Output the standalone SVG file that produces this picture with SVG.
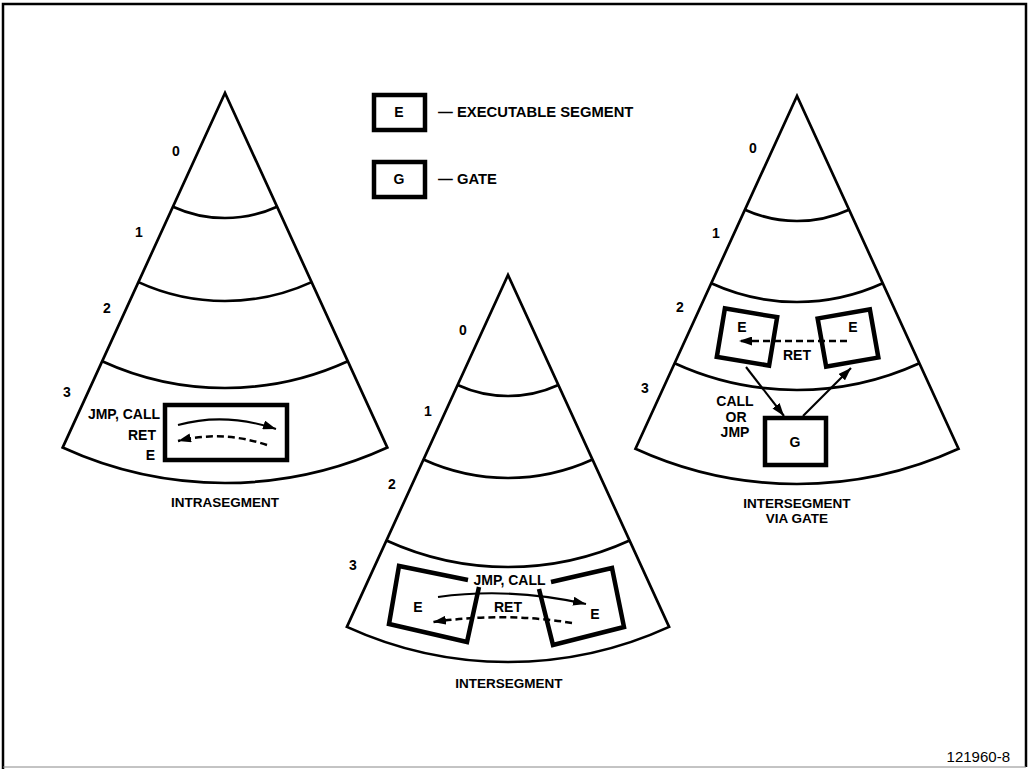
<svg xmlns="http://www.w3.org/2000/svg" width="1028" height="769" viewBox="0 0 1028 769">
<style>
text{font-family:"Liberation Sans",Arial,sans-serif;font-weight:bold;font-size:14px;fill:#000}
.t{font-size:13.5px;text-anchor:middle}
.m{text-anchor:middle}
.e{text-anchor:end}
.lg{font-size:14.8px}
.cone{fill:none;stroke:#000;stroke-width:2.7;stroke-linejoin:miter}
.box{fill:none;stroke:#000;stroke-width:4.5}
.sol{fill:none;stroke:#000;stroke-width:2.1;marker-end:url(#ah)}
.dash{fill:none;stroke:#000;stroke-width:2.5;stroke-dasharray:7 4;marker-end:url(#ah)}
</style>
<defs>
<marker id="ah" markerUnits="userSpaceOnUse" markerWidth="13" markerHeight="9" refX="13" refY="4.5" orient="auto">
<path d="M0,0 L13,4.5 L0,9 Z" fill="#000"/>
</marker>
</defs>
<rect width="1028" height="769" fill="#fff"/>
<g id="frame">
<path d="M3,769 V4 H1026 V767" fill="none" stroke="#000" stroke-width="2.5"/>
<path d="M3,767 H1026" fill="none" stroke="#888" stroke-width="1"/>
</g>
<g id="legend">
<g id="legend-e">
<rect class="box" x="374" y="95" width="51" height="35"/>
<text class="m" x="399" y="117">E</text>
<text class="lg" x="438" y="117">— EXECUTABLE SEGMENT</text>
</g>
<g id="legend-g">
<rect class="box" x="374" y="162" width="51" height="35"/>
<text class="m" x="399" y="184">G</text>
<text class="lg" x="438" y="184">— GATE</text>
</g>
</g>
<g id="cone-left">
<path class="cone" d="M62.64,447.59 L225,93 L387.36,447.59 A390,390 0 0 1 62.64,447.59 Z"/>
<path class="cone" d="M172.96,206.65 A125,125 0 0 0 277.04,206.65"/>
<path class="cone" d="M138.41,282.11 A208,208 0 0 0 311.59,282.11"/>
<path class="cone" d="M102.19,361.21 A295,295 0 0 0 347.81,361.21"/>
<text class="m" x="176" y="156">0</text>
<text class="m" x="139" y="237">1</text>
<text class="m" x="107" y="313">2</text>
<text class="m" x="67" y="397">3</text>
<text class="t" x="225" y="507">INTRASEGMENT</text>
</g>
<g id="node-intra-e">
<rect class="box" x="165" y="405" width="122" height="55"/>
<text class="e" x="160" y="419">JMP, CALL</text>
<text class="e" x="156" y="440">RET</text>
<text class="e" x="155" y="460">E</text>
</g>
<g id="cone-mid">
<path class="cone" d="M346.89,626.86 L508,275 L669.11,626.86 A387,387 0 0 1 346.89,626.86 Z"/>
<path class="cone" d="M457.63,385.01 A121,121 0 0 0 558.37,385.01"/>
<path class="cone" d="M423.49,459.57 A203,203 0 0 0 592.51,459.57"/>
<path class="cone" d="M386.44,540.49 A292,292 0 0 0 629.56,540.49"/>
<text class="m" x="463" y="335">0</text>
<text class="m" x="428" y="416">1</text>
<text class="m" x="392" y="489">2</text>
<text class="m" x="353" y="570">3</text>
<text class="t" x="509" y="688">INTERSEGMENT</text>
</g>
<g id="node-inter-e1">
<polyline class="box" points="468,580 399,566 389,624 467,642 479,587"/>
<text class="m" x="418" y="612">E</text>
</g>
<g id="node-inter-e2">
<polyline class="box" points="551,582 612,568 624,627 553,645 539,589"/>
<text class="m" x="595" y="619">E</text>
</g>
<text class="m" x="509.5" y="585">JMP, CALL</text>
<text class="m" x="508" y="612">RET</text>
<g id="cone-right">
<path class="cone" d="M635.48,448.77 L797,96 L958.52,448.77 A388,388 0 0 1 635.48,448.77 Z"/>
<path class="cone" d="M744.96,209.65 A125,125 0 0 0 849.04,209.65"/>
<path class="cone" d="M711.24,283.30 A206,206 0 0 0 882.76,283.30"/>
<path class="cone" d="M674.61,363.30 A294,294 0 0 0 919.39,363.30"/>
<text class="m" x="753" y="153">0</text>
<text class="m" x="716" y="238">1</text>
<text class="m" x="680" y="312">2</text>
<text class="m" x="645" y="393">3</text>
<text class="t" x="797" y="508">INTERSEGMENT</text>
<text class="t" x="797" y="523">VIA GATE</text>
</g>
<g id="node-gate-e1">
<rect class="box" x="-26.5" y="-24.5" width="53" height="49" transform="translate(747,337) rotate(9.5)"/>
<text class="m" x="742" y="332">E</text>
</g>
<g id="node-gate-e2">
<rect class="box" x="-26.5" y="-24.5" width="53" height="49" transform="translate(848,338) rotate(-10)"/>
<text class="m" x="853" y="332">E</text>
</g>
<g id="node-gate-g">
<rect class="box" x="765" y="418" width="61" height="47"/>
<text class="m" x="795" y="447">G</text>
</g>
<text class="m" x="735" y="406">CALL</text>
<text class="m" x="736" y="422">OR</text>
<text class="m" x="735" y="437">JMP</text>
<text class="m" x="797" y="360">RET</text>
<g id="connectors">
<path class="sol" d="M178,425 Q225,412 276,429"/>
<path class="dash" d="M267,445 Q222,430 178,441"/>
<path class="sol" d="M438,597 Q510,587 586,604"/>
<path class="dash" d="M572,623 Q505,612 433,622"/>
<path class="dash" d="M847,341 L739,341"/>
<path class="sol" d="M746,367 L784,416"/>
<path class="sol" d="M803,416 L851,368"/>
</g>
<text style="font-weight:normal;font-size:15px;text-anchor:end" x="1010" y="762">121960-8</text>
</svg>
